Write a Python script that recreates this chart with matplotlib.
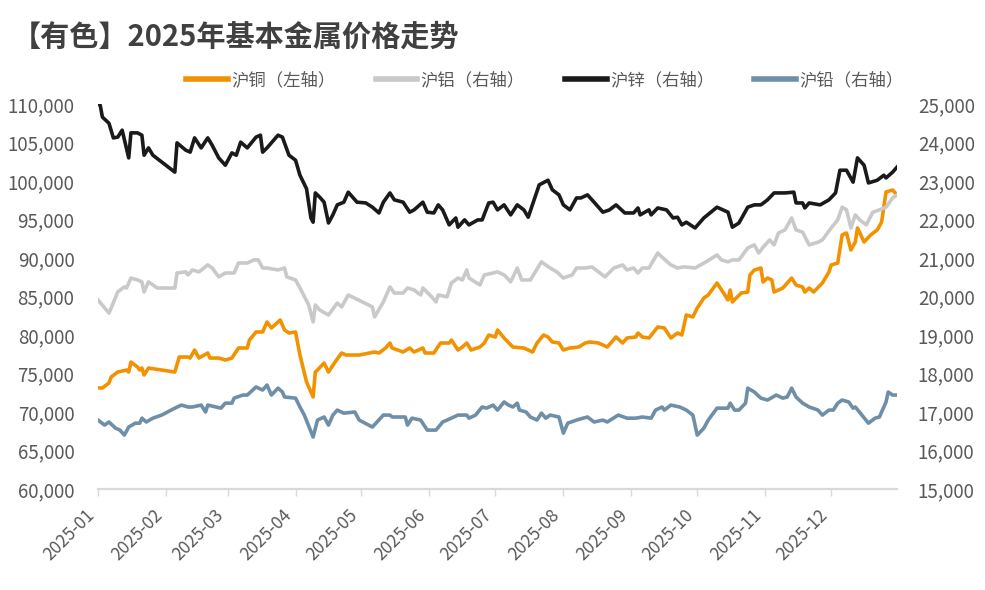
import matplotlib.pyplot as plt
import matplotlib.dates as mdates
from matplotlib.ticker import FuncFormatter, MultipleLocator
import pandas as pd

plt.rcParams['font.family'] = ['Noto Sans CJK SC', 'DejaVu Sans']

# 数据：距 2025-01-01 的天数 + 收盘价
cu_day = [0, 2, 5, 6, 9, 13, 14, 15, 18, 19, 20, 21, 23, 35, 37, 41, 42, 44, 46, 50,
          51, 55, 58, 61, 64, 68, 69, 72, 75, 77, 79, 83, 85, 87, 90, 92, 95, 98, 99, 100,
          103, 105, 108, 111, 113, 119, 126, 128, 131, 133, 134, 139, 142, 144, 148, 149, 153, 156, 160, 161,
          164, 166, 168, 170, 174, 176, 178, 181, 182, 185, 189, 194, 198, 200, 203, 205, 207, 210, 212, 215,
          219, 222, 224, 228, 232, 236, 239, 241, 245, 246, 248, 251, 255, 258, 261, 264, 266, 268, 271, 273,
          276, 278, 282, 285, 287, 288, 289, 293, 296, 297, 299, 302, 303, 305, 307, 308, 312, 316, 318, 321,
          322, 324, 326, 330, 333, 334, 337, 339, 341, 343, 345, 346, 349, 352, 355, 357, 359, 362, 364]
cu = [73120, 73120, 73770, 74550, 75190, 75450, 75190, 76490, 75840, 75450,
      75710, 74810, 75710, 75190, 77140, 77140, 77010, 78050, 77010, 77660,
      77010, 77010, 76750, 77010, 78310, 78310, 79350, 80390, 80390, 81690,
      80910, 81950, 80650, 80260, 80390, 77400, 73900, 71950, 75190, 75450,
      76360, 75190, 76490, 77660, 77400, 77400, 77790, 77660, 78310, 78960,
      78310, 77790, 78310, 77790, 78310, 77660, 77660, 78960, 78960, 79350,
      78050, 78440, 78960, 78050, 78440, 78960, 80000, 79740, 80650, 79610,
      78440, 78310, 77790, 78960, 80000, 79740, 79090, 78960, 78050, 78310,
      78440, 78960, 79090, 78960, 78440, 79740, 78960, 79610, 79740, 80260,
      79740, 79610, 81040, 80910, 79610, 80260, 80000, 82600, 82340, 83510,
      84800, 85190, 86750, 85450, 84550, 85840, 84290, 85450, 85580, 87790,
      88440, 88700, 86880, 87400, 87140, 85580, 86100, 87400, 86490, 86230,
      85580, 86100, 85580, 86750, 88180, 89090, 89350, 92990, 93250, 91040,
      92080, 93900, 92080, 92990, 93640, 94680, 98570, 98830, 98180]

al_day = [0, 5, 6, 9, 12, 13, 15, 18, 20, 21, 23, 27, 35, 36, 40, 41, 43, 46, 50, 52,
          55, 58, 62, 64, 68, 71, 73, 75, 77, 82, 85, 86, 90, 92, 96, 98, 99, 101, 105, 109,
          111, 114, 125, 126, 130, 133, 135, 139, 141, 144, 147, 148, 152, 154, 155, 159, 161, 164, 166, 168,
          169, 174, 176, 180, 182, 185, 188, 191, 193, 197, 202, 206, 209, 212, 216, 218, 222, 225, 228, 231,
          235, 239, 241, 244, 246, 248, 251, 255, 257, 261, 264, 267, 272, 277, 282, 284, 287, 289, 292, 296,
          299, 301, 303, 306, 308, 310, 313, 316, 318, 321, 324, 328, 330, 334, 337, 339, 341, 343, 345, 347,
          350, 353, 356, 359, 362, 364]
al = [19910, 19570, 19700, 20120, 20250, 20220, 20480, 20430, 20380, 20120,
      20380, 20220, 20220, 20610, 20640, 20560, 20690, 20640, 20820, 20740,
      20510, 20610, 20610, 20870, 20870, 20950, 20950, 20740, 20740, 20690,
      20740, 20510, 20430, 20220, 19780, 19340, 19780, 19650, 19520, 19830,
      19730, 20040, 19730, 19470, 19860, 20250, 20090, 20090, 20220, 20170,
      20040, 20220, 19990, 19860, 20040, 19990, 20350, 20480, 20430, 20690,
      20480, 20300, 20560, 20610, 20640, 20560, 20380, 20740, 20430, 20430,
      20900, 20740, 20640, 20480, 20560, 20740, 20740, 20770, 20640, 20510,
      20740, 20820, 20690, 20740, 20610, 20740, 20740, 21130, 21020, 20820,
      20740, 20770, 20740, 20900, 21080, 20950, 20900, 20950, 20950, 21260,
      21340, 21130, 21280, 21470, 21340, 21650, 21730, 22040, 21730, 21670,
      21340, 21410, 21470, 21780, 21990, 22320, 22250, 21780, 22120, 21990,
      21860, 22190, 22250, 22320, 22560, 22640]

zn_day = [0, 1, 2, 5, 7, 9, 11, 14, 15, 18, 20, 21, 23, 25, 35, 36, 40, 42, 44, 47,
          50, 52, 55, 58, 61, 63, 65, 68, 72, 74, 75, 77, 82, 84, 87, 90, 92, 95, 97, 98,
          99, 101, 103, 105, 107, 109, 112, 114, 116, 118, 122, 125, 128, 130, 133, 135, 139, 142, 144, 148,
          150, 153, 155, 157, 160, 163, 164, 167, 169, 173, 175, 178, 180, 182, 185, 188, 191, 194, 196, 201,
          205, 207, 210, 212, 215, 218, 220, 223, 226, 230, 233, 236, 240, 244, 246, 247, 251, 252, 255, 259,
          262, 264, 266, 268, 272, 276, 282, 287, 289, 292, 296, 299, 302, 305, 308, 313, 317, 318, 321, 322,
          324, 329, 333, 336, 338, 341, 344, 346, 349, 351, 355, 358, 359, 362, 364]
zn = [25000, 24970, 24660, 24500, 24120, 24140, 24320, 23600, 24250, 24250,
      24190, 23670, 23860, 23670, 23230, 23990, 23800, 23750, 24120, 23860,
      24120, 23930, 23600, 23410, 23730, 23670, 24010, 23860, 24140, 24190,
      23750, 23860, 24190, 24140, 23670, 23540, 23150, 22800, 22040, 21930,
      22690, 22580, 22450, 21910, 22120, 22380, 22450, 22710, 22580, 22450,
      22430, 22320, 22170, 22450, 22690, 22510, 22450, 22190, 22250, 22450,
      22190, 22170, 22380, 22250, 21860, 22040, 21800, 21990, 21860, 21990,
      21990, 22430, 22450, 22250, 22380, 22120, 22380, 22250, 22060, 22900,
      23020, 22770, 22640, 22380, 22250, 22560, 22560, 22640, 22450, 22190,
      22250, 22380, 22170, 22170, 22300, 22120, 22250, 22120, 22300, 22250,
      22040, 22060, 21860, 21930, 21780, 22040, 22320, 22190, 21800, 21910,
      22320, 22380, 22380, 22510, 22690, 22690, 22710, 22430, 22430, 22300,
      22430, 22380, 22510, 22690, 23280, 23280, 22970, 23600, 23410, 22950,
      23020, 23150, 23080, 23230, 23360]

pb_day = [0, 3, 5, 8, 10, 12, 14, 17, 19, 20, 22, 25, 29, 35, 38, 41, 43, 47, 49, 50,
          56, 58, 61, 62, 66, 68, 72, 75, 77, 79, 82, 84, 85, 90, 92, 94, 98, 100, 103, 105,
          107, 109, 112, 117, 119, 125, 130, 133, 134, 140, 141, 143, 147, 150, 154, 157, 159, 164, 168, 169,
          172, 175, 177, 180, 182, 185, 187, 189, 191, 192, 195, 197, 200, 202, 204, 206, 210, 212, 214, 218,
          221, 223, 226, 230, 232, 237, 241, 245, 248, 252, 254, 257, 258, 261, 265, 268, 271, 273, 276, 278,
          282, 287, 288, 290, 292, 295, 296, 299, 302, 305, 309, 312, 314, 316, 318, 321, 324, 328, 330, 333,
          335, 337, 339, 342, 344, 345, 348, 351, 354, 356, 359, 360, 362, 364]
pb = [16790, 16660, 16740, 16580, 16530, 16400, 16610, 16710, 16710, 16840,
      16740, 16840, 16920, 17100, 17180, 17130, 17130, 17180, 17000, 17180,
      17100, 17230, 17230, 17360, 17440, 17440, 17650, 17570, 17700, 17440,
      17620, 17520, 17390, 17360, 17130, 16920, 16350, 16790, 16870, 16660,
      16920, 17050, 16970, 17000, 16790, 16610, 16920, 16920, 16870, 16870,
      16660, 16840, 16790, 16530, 16530, 16740, 16790, 16920, 16920, 16840,
      16920, 17130, 17100, 17180, 17050, 17260, 17180, 17130, 17230, 17050,
      17000, 16870, 16790, 16970, 16840, 16920, 16870, 16450, 16710, 16790,
      16840, 16870, 16740, 16790, 16740, 16920, 16840, 16840, 16870, 16840,
      17050, 17130, 17050, 17180, 17130, 17050, 16920, 16400, 16580, 16790,
      17100, 17100, 17230, 17050, 17050, 17230, 17620, 17520, 17360, 17310,
      17440, 17360, 17390, 17620, 17390, 17230, 17130, 17050, 16920, 17050,
      17050, 17230, 17310, 17260, 17100, 17130, 16920, 16710, 16840, 16870,
      17260, 17520, 17440, 17440]

names = ['沪铜（左轴）', '沪铝（右轴）', '沪锌（右轴）', '沪铅（右轴）']
colors = ['#F39200', '#C9C9C9', '#1A1A1A', '#6E8FA7']

start = pd.Timestamp('2025-01-01')


def to_dates(days):
    return start + pd.to_timedelta(days, unit='D')


text_c = '#595959'
fig = plt.figure(figsize=(9.85, 5.9), dpi=100)
ax = fig.add_axes([98 / 985, 1 - 489 / 590, 799 / 985, 385 / 590])
ax2 = ax.twinx()

lw = 2.6
l1, = ax.plot(to_dates(cu_day), cu, color=colors[0], lw=lw, solid_joinstyle='round')
l2, = ax2.plot(to_dates(al_day), al, color=colors[1], lw=lw, solid_joinstyle='round')
l3, = ax2.plot(to_dates(zn_day), zn, color=colors[2], lw=lw, solid_joinstyle='round')
l4, = ax2.plot(to_dates(pb_day), pb, color=colors[3], lw=lw, solid_joinstyle='round')

ax.set_ylim(60000, 110000)
ax2.set_ylim(15000, 25000)
ax.yaxis.set_major_locator(MultipleLocator(5000))
ax2.yaxis.set_major_locator(MultipleLocator(1000))
fmt = FuncFormatter(lambda v, p: f'{v:,.0f}')
ax.yaxis.set_major_formatter(fmt)
ax2.yaxis.set_major_formatter(fmt)

ax.set_xlim(start, pd.Timestamp('2025-12-31'))
ax.xaxis.set_major_locator(mdates.MonthLocator())
ax.xaxis.set_major_formatter(mdates.DateFormatter('%Y-%m'))

for a in (ax, ax2):
    for s in ['top', 'left', 'right']:
        a.spines[s].set_visible(False)
    a.spines['bottom'].set_color('#D9D9D9')
    a.spines['bottom'].set_linewidth(1.5)
    a.tick_params(axis='y', length=0, labelsize=13.5, labelcolor=text_c)
ax.tick_params(axis='y', pad=17)
ax2.tick_params(axis='y', pad=15)

ax.tick_params(axis='x', length=5, width=1, color='#D9D9D9', labelsize=12.5,
               labelcolor=text_c, pad=7)
for lab in ax.get_xticklabels():
    lab.set_rotation(45)
    lab.set_ha('right')
    lab.set_va('top')

fig.text(12 / 985, 1 - 37 / 590, '【有色】2025年基本金属价格走势', fontsize=21,
         fontweight='bold', color='#404040', va='center', ha='left')

fig.legend([l1, l2, l3, l4], names, loc='center', bbox_to_anchor=(545 / 985, 1 - 80 / 590),
           ncol=4, frameon=False, fontsize=12.5, labelcolor=text_c, handlelength=2.4,
           handletextpad=0.2, columnspacing=2.3)
for h in fig.legends[0].get_lines():
    h.set_linewidth(4)

fig.savefig('out.png', dpi=100)
